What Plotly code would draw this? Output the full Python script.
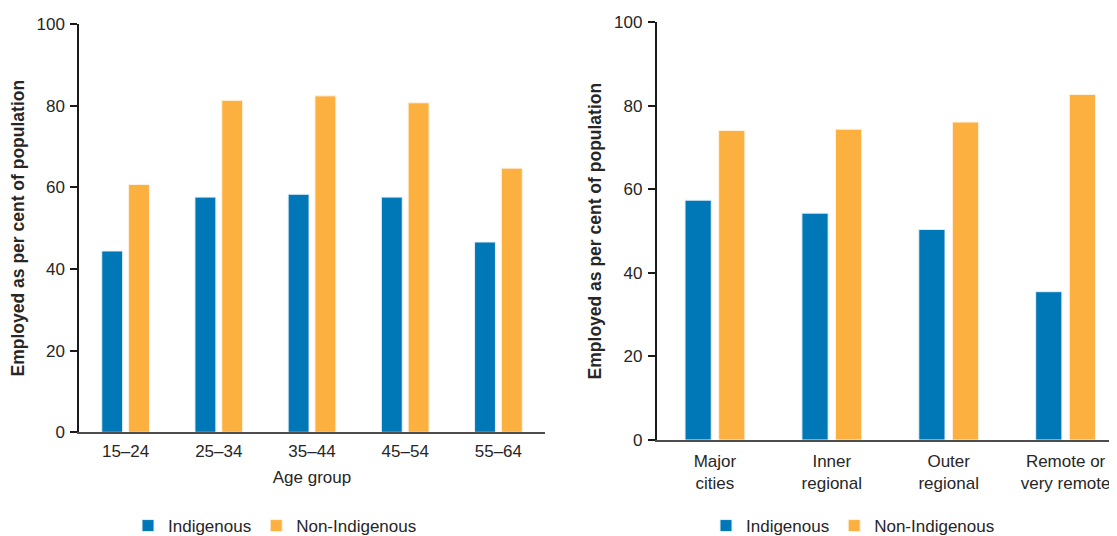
import plotly.graph_objects as go

# ---- data ----
age_groups = ["15–24", "25–34", "35–44", "45–54", "55–64"]
age_indigenous = [44.4, 57.6, 58.3, 57.6, 46.6]
age_non_indigenous = [60.7, 81.3, 82.4, 80.7, 64.7]

remoteness = ["Major<br>cities", "Inner<br>regional", "Outer<br>regional", "Remote or<br>very remote"]
rem_indigenous = [57.4, 54.3, 50.4, 35.5]
rem_non_indigenous = [74.1, 74.4, 76.1, 82.7]

y_ticks = [0, 20, 40, 60, 80, 100]

BLUE = "#0077b6"
ORANGE = "#fcb040"
FONT = "Liberation Sans, Arial, sans-serif"
TXT = "#262626"

# page is 1117x536; html body has an 8px margin, so the figure is offset by 8px
OFF = 8
W, H = 1117 - OFF, 536


def fx(px):
    return (px - OFF) / W


def fy(py):
    return (H - (py - OFF)) / H


fig = go.Figure()
fig.add_trace(go.Bar(x=age_groups, y=age_indigenous, name="Indigenous",
                     marker=dict(color=BLUE, line=dict(color="#e6f0f7", width=1)),
                     xaxis="x", yaxis="y", legend="legend"))
fig.add_trace(go.Bar(x=age_groups, y=age_non_indigenous, name="Non-Indigenous",
                     marker=dict(color=ORANGE, line=dict(color="#fff3e0", width=1)),
                     xaxis="x", yaxis="y", legend="legend"))
fig.add_trace(go.Bar(x=remoteness, y=rem_indigenous, name="Indigenous",
                     marker=dict(color=BLUE, line=dict(color="#e6f0f7", width=1)),
                     xaxis="x2", yaxis="y2", legend="legend2"))
fig.add_trace(go.Bar(x=remoteness, y=rem_non_indigenous, name="Non-Indigenous",
                     marker=dict(color=ORANGE, line=dict(color="#fff3e0", width=1)),
                     xaxis="x2", yaxis="y2", legend="legend2"))

tickfont = dict(family=FONT, size=17, color=TXT)
titlefont = dict(family=FONT, size=17.5, color=TXT, weight=700)

common_y = dict(range=[0, 100], tickvals=y_ticks, ticks="outside", ticklen=7, tickwidth=1.5,
                tickcolor="#1a1a1a", showline=True, linecolor="#1a1a1a", linewidth=1.5,
                showgrid=False, zeroline=False, tickfont=tickfont, ticklabelstandoff=2,
                fixedrange=True, automargin=False)
common_x = dict(showline=True, linecolor="#4d4d4d", linewidth=1.5, ticks="", showgrid=False,
                tickfont=tickfont, zeroline=False, fixedrange=True, automargin=False)

legend_common = dict(orientation="h", xanchor="left", y=0.0, yanchor="bottom",
                     font=dict(family=FONT, size=17, color=TXT), bgcolor="rgba(0,0,0,0)",
                     traceorder="normal")

fig.update_layout(
    width=W, height=H, autosize=False,
    margin=dict(l=0, r=0, t=0, b=0),
    paper_bgcolor="white", plot_bgcolor="white",
    bargap=0.425, bargroupgap=0.22,
    barmode="group",
    font=dict(family=FONT, size=17, color=TXT),
    xaxis=dict(domain=[fx(79), fx(545)], range=[-0.5, 4.5], anchor="y",
               title=dict(text="Age group", font=dict(family=FONT, size=17, color=TXT), standoff=11),
               ticklabelstandoff=3, **common_x),
    yaxis=dict(domain=[fy(432.3), fy(24)], anchor="x",
               title=dict(text="Employed as per cent of population", font=titlefont, standoff=7),
               **common_y),
    xaxis2=dict(domain=[fx(656.5), 1.0], range=[-0.5, 3.44], anchor="y2",
                ticklabelstandoff=5, **common_x),
    yaxis2=dict(domain=[fy(440), fy(22.2)], anchor="x2",
                title=dict(text="Employed as per cent of population", font=titlefont, standoff=8),
                **common_y),
    legend=dict(x=fx(128), **legend_common),
    legend2=dict(x=fx(706), **legend_common),
)

fig.write_html("out.html")
